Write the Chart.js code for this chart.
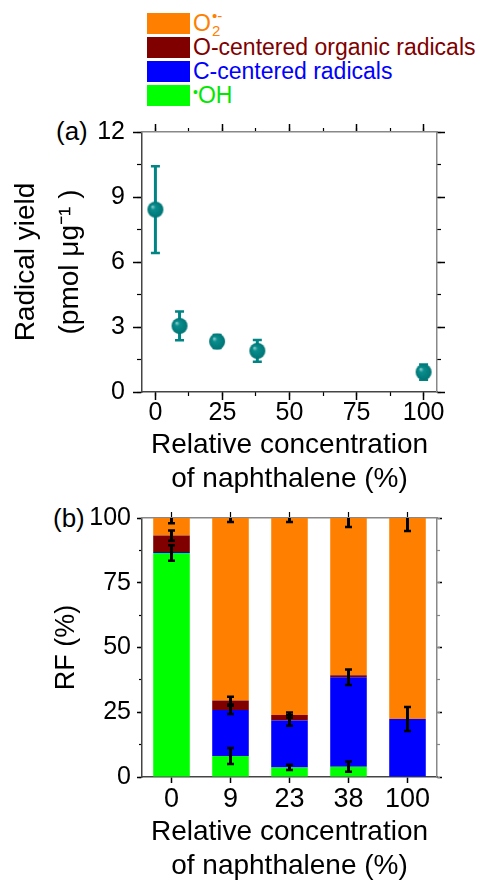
<!DOCTYPE html>
<html>
<head>
<meta charset="utf-8">
<script src="https://cdn.jsdelivr.net/npm/chart.js@4.4.0/dist/chart.umd.min.js"></script>
<style>
  html, body { margin: 0; padding: 0; background: #fff; }
  body { width: 480px; height: 881px; position: relative; overflow: hidden;
         font-family: "Liberation Sans", Arial, sans-serif; }
  #chartA { position: absolute; left: 0; top: 108px; }
  #chartB { position: absolute; left: 0; top: 490px; }
  .legend { position: absolute; left: 147px; top: 13px; }
  .row { height: 24px; display: flex; align-items: flex-start; }
  .sw { width: 43px; height: 21px; margin-right: 3px; flex: none; }
  .lbl { font-size: 23px; line-height: 21px; white-space: nowrap; position: relative; }
  .ss { display: inline-block; position: relative; width: 14px; height: 21px; vertical-align: top; }
  .sup { position: absolute; left: 1px; top: -5px; font-size: 15px; line-height: 15px; }
  .sub { position: absolute; left: 1px; top: 10px; font-size: 15px; line-height: 15px; }
  .dot { font-size: 14px; vertical-align: top; position: relative; top: -3px; }
  .panel { position: absolute; font-size: 26px; line-height: 26px; color: #000; }
</style>
</head>
<body>

<div class="legend">
  <div class="row"><div class="sw" style="background:#FF8000"></div>
    <span class="lbl" style="color:#FF8000">O<span class="ss"><span class="sup">•-</span><span class="sub">2</span></span></span></div>
  <div class="row"><div class="sw" style="background:#800000"></div>
    <span class="lbl" style="color:#800000">O-centered organic radicals</span></div>
  <div class="row"><div class="sw" style="background:#0000FF"></div>
    <span class="lbl" style="color:#0000FF">C-centered radicals</span></div>
  <div class="row"><div class="sw" style="background:#00FF00"></div>
    <span class="lbl" style="color:#00E800"><span class="dot">•</span>OH</span></div>
</div>

<div class="panel" style="left:56px; top:118px;">(a)</div>
<div class="panel" style="left:53px; top:505px;">(b)</div>

<canvas id="chartA" width="480" height="389"></canvas>
<canvas id="chartB" width="480" height="394"></canvas>

<script>
// panel (a): radical yield vs naphthalene fraction
const yieldX = [0, 9, 23, 38, 100];
const yieldY = [8.42, 3.05, 2.33, 1.9, 0.92];
const yieldErr = [2.0, 0.66, 0.3, 0.5, 0.35];

// panel (b): relative fraction of each radical type (%)
const categories = ['0', '9', '23', '38', '100'];
const rfOH = [86.5, 8.1, 3.7, 4.0, 0];
const rfC = [0.4, 17.8, 18.1, 34.5, 22.4];
const rfO = [6.3, 3.6, 2.1, 0.8, 0];
const rfO2 = [6.8, 70.5, 76.1, 60.7, 77.6];
const errOH = [3.0, 3.1, 1.0, 2.0, 0];
const errC = [0, 1.6, 2.0, 3.0, 4.6];
const errO = [2.0, 1.5, 1.0, 0, 0];
const errO2 = [2.0, 1.5, 1.5, 3.5, 5.0];

const xTitle = ['Relative concentration', 'of naphthalene (%)'];

Chart.defaults.font.family = "'Liberation Sans', Arial, sans-serif";
Chart.defaults.color = '#000';

const teal = '#008484';
const axisDark = '#444';
const axisGray = '#888';

// shaded sphere marker
function sphere(r) {
  const c = document.createElement('canvas');
  c.width = c.height = r * 2 + 2;
  const g = c.getContext('2d');
  const cx = r + 1, cy = r + 1;
  const grad = g.createRadialGradient(cx - r * 0.4, cy - r * 0.4, 0, cx, cy, r);
  grad.addColorStop(0, '#a8d8d8');
  grad.addColorStop(0.3, '#0a8e8e');
  grad.addColorStop(1, '#007474');
  g.fillStyle = grad;
  g.beginPath();
  g.arc(cx, cy, r, 0, Math.PI * 2);
  g.fill();
  return c;
}

// helper for tick-only axes
function tickAxis(opts) {
  return Object.assign({
    ticks: { display: false },
    grid: { drawOnChartArea: false, tickColor: '#000', tickWidth: 1.3 },
    border: { display: false }
  }, opts);
}

const yieldErrBars = {
  id: 'yieldErrBars',
  beforeDatasetsDraw(chart) {
    const { ctx, scales: { x, y } } = chart;
    ctx.save();
    ctx.strokeStyle = teal;
    yieldX.forEach((xv, i) => {
      const px = x.getPixelForValue(xv);
      const top = y.getPixelForValue(yieldY[i] + yieldErr[i]);
      const bot = y.getPixelForValue(yieldY[i] - yieldErr[i]);
      ctx.lineWidth = 3;
      ctx.beginPath();
      ctx.moveTo(px, top); ctx.lineTo(px, bot);
      ctx.stroke();
      ctx.lineWidth = 2.5;
      ctx.beginPath();
      ctx.moveTo(px - 4.5, top); ctx.lineTo(px + 4.5, top);
      ctx.moveTo(px - 4.5, bot); ctx.lineTo(px + 4.5, bot);
      ctx.stroke();
    });
    ctx.restore();
  }
};

new Chart(document.getElementById('chartA'), {
  type: 'scatter',
  data: {
    datasets: [{
      data: yieldX.map((x, i) => ({ x: x, y: yieldY[i] })),
      pointStyle: sphere(8),
      pointRadius: 8,
      backgroundColor: teal,
      borderColor: teal,
      clip: false
    }]
  },
  options: {
    responsive: false,
    animation: false,
    events: [],
    plugins: { legend: { display: false }, tooltip: { enabled: false } },
    scales: {
      x: {
        type: 'linear', position: 'bottom', min: -5, max: 105, weight: 1,
        ticks: { stepSize: 25, includeBounds: false, autoSkip: false, maxRotation: 0,
                 font: { size: 25, lineHeight: 1 }, padding: 1 },
        grid: { drawOnChartArea: false, tickLength: 8, tickColor: '#000', tickWidth: 1.5 },
        border: { color: axisDark, width: 1.5 },
        title: { display: true, text: xTitle, font: { size: 28, lineHeight: 1.232 }, padding: 0 },
        afterFit: s => { s.height = 105; }
      },
      y: {
        type: 'linear', position: 'left', min: 0, max: 12, weight: 1,
        ticks: { stepSize: 3, autoSkip: false, font: { size: 25 }, padding: 8 },
        grid: { drawOnChartArea: false, tickLength: 9, tickColor: '#000', tickWidth: 1.5 },
        border: { color: axisDark, width: 1.5 },
        title: { display: true, text: ['Radical yield', '(pmol \u03bcg\u207b\u00b9 )'],
                 font: { size: 28, lineHeight: 1.57 }, padding: { top: 4, bottom: 0 } },
        afterFit: s => { s.width = 142; }
      },
      xMinor: tickAxis({ type: 'linear', position: 'bottom', min: -5, max: 105, weight: 0,
        ticks: { display: false, stepSize: 12.5, includeBounds: false },
        grid: { drawOnChartArea: false, tickLength: 4, tickColor: '#000', tickWidth: 1.2 },
        afterFit: s => { s.height = 0; } }),
      xTop: tickAxis({ type: 'linear', position: 'top', min: -5, max: 105, weight: 1,
        ticks: { display: false, stepSize: 25, includeBounds: false },
        grid: { drawOnChartArea: false, tickLength: 8, tickColor: '#000', tickWidth: 1.5 },
        border: { color: axisGray, width: 1.5 },
        afterFit: s => { s.height = 24; } }),
      xTopMinor: tickAxis({ type: 'linear', position: 'top', min: -5, max: 105, weight: 0,
        ticks: { display: false, stepSize: 12.5, includeBounds: false },
        grid: { drawOnChartArea: false, tickLength: 4, tickColor: '#000', tickWidth: 1.2 },
        afterFit: s => { s.height = 0; } }),
      yMinor: tickAxis({ type: 'linear', position: 'left', min: 0, max: 12, weight: 0,
        ticks: { display: false, stepSize: 1.5 },
        grid: { drawOnChartArea: false, tickLength: 5, tickColor: '#000', tickWidth: 1.2 },
        afterFit: s => { s.width = 0; } }),
      yRight: tickAxis({ type: 'linear', position: 'right', min: 0, max: 12, weight: 1,
        ticks: { display: false, stepSize: 3 },
        grid: { drawOnChartArea: false, tickLength: 8, tickColor: '#000', tickWidth: 1.5 },
        border: { color: axisGray, width: 1.5 },
        afterFit: s => { s.width = 43; } }),
      yRightMinor: tickAxis({ type: 'linear', position: 'right', min: 0, max: 12, weight: 0,
        ticks: { display: false, stepSize: 1.5 },
        grid: { drawOnChartArea: false, tickLength: 4, tickColor: '#000', tickWidth: 1.2 },
        afterFit: s => { s.width = 0; } })
    }
  },
  plugins: [yieldErrBars]
});

const rfErrBars = {
  id: 'rfErrBars',
  afterDatasetsDraw(chart) {
    const { ctx, chartArea, scales: { x, y } } = chart;
    const series = [rfOH, rfC, rfO, rfO2];
    const errs = [errOH, errC, errO, errO2];
    ctx.save();
    ctx.beginPath();
    ctx.rect(chartArea.left, chartArea.top, chartArea.width, chartArea.height);
    ctx.clip();
    ctx.strokeStyle = '#000';
    categories.forEach((c, j) => {
      let cum = 0;
      series.forEach((s, i) => {
        cum += s[j];
        const e = errs[i][j];
        if (!e) return;
        const px = x.getPixelForValue(j);
        const top = y.getPixelForValue(cum + e);
        const bot = y.getPixelForValue(cum - e);
        ctx.lineWidth = 3;
        ctx.beginPath();
        ctx.moveTo(px, top); ctx.lineTo(px, bot);
        ctx.stroke();
        ctx.lineWidth = 2.5;
        ctx.beginPath();
        ctx.moveTo(px - 3.5, top); ctx.lineTo(px + 3.5, top);
        ctx.moveTo(px - 3.5, bot); ctx.lineTo(px + 3.5, bot);
        ctx.stroke();
      });
    });
    ctx.restore();
  }
};

const barCommon = { barPercentage: 0.62, categoryPercentage: 1.0, borderWidth: 0 };

new Chart(document.getElementById('chartB'), {
  type: 'bar',
  data: {
    labels: categories,
    datasets: [
      Object.assign({ label: 'OH', data: rfOH, backgroundColor: '#00FF00' }, barCommon),
      Object.assign({ label: 'C-centered radicals', data: rfC, backgroundColor: '#0000FF' }, barCommon),
      Object.assign({ label: 'O-centered organic radicals', data: rfO, backgroundColor: '#800000' }, barCommon),
      Object.assign({ label: 'O2', data: rfO2, backgroundColor: '#FF8000' }, barCommon)
    ]
  },
  options: {
    responsive: false,
    animation: false,
    events: [],
    plugins: { legend: { display: false }, tooltip: { enabled: false } },
    scales: {
      x: {
        type: 'category', position: 'bottom', stacked: true, offset: true, weight: 1,
        ticks: { autoSkip: false, maxRotation: 0, font: { size: 27, lineHeight: 1 }, padding: 3.5 },
        grid: { offset: false, drawOnChartArea: false, tickLength: 6, tickColor: '#000', tickWidth: 1.5 },
        border: { color: axisDark, width: 1.5 },
        title: { display: true, text: xTitle, font: { size: 28, lineHeight: 1.232 }, padding: 0 },
        afterFit: s => { s.height = 107; }
      },
      y: {
        type: 'linear', position: 'left', stacked: true, min: 0, max: 100, weight: 1,
        ticks: { stepSize: 25, autoSkip: false, font: { size: 25 }, padding: 6 },
        grid: { drawOnChartArea: false, tickLength: 5, tickColor: '#000', tickWidth: 1.5 },
        border: { color: axisDark, width: 1.5 },
        title: { display: true, text: 'RF (%)', font: { size: 27, lineHeight: 1.2 },
                 padding: { top: 50.5, bottom: 0 } },
        afterFit: s => { s.width = 142; }
      },
      xTop: tickAxis({ type: 'category', position: 'top', offset: true, weight: 1,
        grid: { offset: false, drawOnChartArea: false, tickLength: 6, tickColor: '#000', tickWidth: 1.2 },
        border: { color: axisGray, width: 1.5 },
        afterFit: s => { s.height = 28; } }),
      yMinor: tickAxis({ type: 'linear', position: 'left', min: 0, max: 100, weight: 0,
        ticks: { display: false, stepSize: 12.5 },
        grid: { drawOnChartArea: false, tickLength: 3, tickColor: '#000', tickWidth: 1.2 },
        afterFit: s => { s.width = 0; } }),
      yRight: tickAxis({ type: 'linear', position: 'right', min: 0, max: 100, weight: 1,
        ticks: { display: false, stepSize: 25 },
        grid: { drawOnChartArea: false, tickLength: 5, tickColor: '#000', tickWidth: 1.5 },
        border: { color: axisGray, width: 1.5 },
        afterFit: s => { s.width = 43; } }),
      yRightMinor: tickAxis({ type: 'linear', position: 'right', min: 0, max: 100, weight: 0,
        ticks: { display: false, stepSize: 12.5 },
        grid: { drawOnChartArea: false, tickLength: 3, tickColor: '#888', tickWidth: 1.2 },
        afterFit: s => { s.width = 0; } })
    }
  },
  plugins: [rfErrBars]
});
</script>
</body>
</html>
